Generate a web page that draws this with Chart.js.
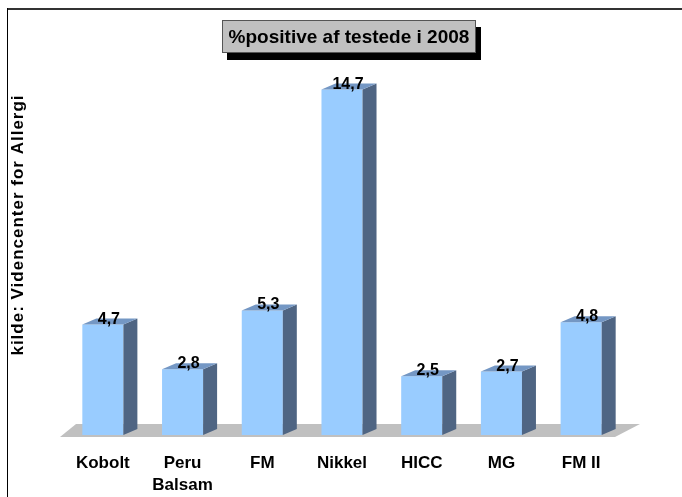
<!DOCTYPE html>
<html>
<head>
<meta charset="utf-8">
<script src="https://cdn.jsdelivr.net/npm/chart.js@4"></script>
<style>
  html, body { margin: 0; padding: 0; background: #fff; }
  #wrap { width: 682px; height: 497px; position: relative; }
</style>
</head>
<body>
<div id="wrap"><canvas id="chart"></canvas></div>
<script>
const categories = ['Kobolt', ['Peru', 'Balsam'], 'FM', 'Nikkel', 'HICC', 'MG', 'FM II'];
const values = [4.7, 2.8, 5.3, 14.7, 2.5, 2.7, 4.8];
const valueLabels = ['4,7', '2,8', '5,3', '14,7', '2,5', '2,7', '4,8'];
const chartTitle = '%positive af testede i 2008';
const sourceTitle = 'kilde: Videncenter for Allergi';

const FONT = '"Liberation Sans", Arial, sans-serif';
const DX = 14, DY = 6;

// floor, 3D sides and tops, value labels, title box, frame
const bar3d = {
  id: 'bar3d',
  beforeDatasetsDraw(chart) {
    const { ctx, chartArea: a } = chart;
    const base = chart.scales.y.getPixelForValue(0);
    ctx.save();
    ctx.fillStyle = '#C0C0C0';
    ctx.beginPath();
    ctx.moveTo(a.left - 3, base + 2);
    ctx.lineTo(a.right - 6, base + 2);
    ctx.lineTo(a.right + 19, base - 11);
    ctx.lineTo(a.left + 13, base - 11);
    ctx.closePath();
    ctx.fill();
    ctx.restore();
  },
  afterDatasetsDraw(chart) {
    const { ctx } = chart;
    const meta = chart.getDatasetMeta(0);
    ctx.save();
    meta.data.forEach((bar, i) => {
      const l = bar.x - bar.width / 2, r = bar.x + bar.width / 2;
      const top = bar.y, base = bar.base;
      ctx.fillStyle = '#4F6583';
      ctx.beginPath();
      ctx.moveTo(r, top);
      ctx.lineTo(r + DX, top - DY);
      ctx.lineTo(r + DX, base - DY);
      ctx.lineTo(r, base);
      ctx.closePath();
      ctx.fill();
      ctx.fillStyle = '#7497C4';
      ctx.beginPath();
      ctx.moveTo(l, top);
      ctx.lineTo(l + DX, top - DY);
      ctx.lineTo(r + DX, top - DY);
      ctx.lineTo(r, top);
      ctx.closePath();
      ctx.fill();
      ctx.fillStyle = '#000';
      ctx.font = 'bold 16px ' + FONT;
      ctx.textAlign = 'center';
      ctx.textBaseline = 'alphabetic';
      ctx.fillText(valueLabels[i], bar.x + 6, top - 1);
    });
    ctx.restore();
  },
  afterDraw(chart) {
    const { ctx } = chart;
    ctx.save();
    // frame
    ctx.fillStyle = '#333';
    ctx.fillRect(7, 8, 675, 2);
    ctx.fillStyle = '#000';
    ctx.fillRect(7, 8, 1, 489);
    // title box with shadow
    const bx = 222, by = 20, bw = 254, bh = 33;
    ctx.fillStyle = '#000';
    ctx.fillRect(bx + 5, by + 7, bw, bh);
    ctx.fillStyle = '#C0C0C0';
    ctx.fillRect(bx, by, bw, bh);
    ctx.strokeStyle = '#555';
    ctx.lineWidth = 1;
    ctx.strokeRect(bx + 0.5, by + 0.5, bw - 1, bh - 1);
    ctx.fillStyle = '#000';
    ctx.font = 'bold 19px ' + FONT;
    ctx.textAlign = 'center';
    ctx.textBaseline = 'middle';
    ctx.fillText(chartTitle, bx + bw / 2, by + bh / 2 + 1);
    // vertical source title
    ctx.translate(18, 225);
    ctx.rotate(-Math.PI / 2);
    ctx.font = 'bold 17px ' + FONT;
    ctx.letterSpacing = '1px';
    ctx.fillText(sourceTitle, 0, 0);
    ctx.restore();
  }
};

new Chart(document.getElementById('chart'), {
  type: 'bar',
  data: {
    labels: categories,
    datasets: [{
      data: values,
      backgroundColor: '#99CCFF',
      borderWidth: 0,
      categoryPercentage: 1,
      barPercentage: 0.515
    }]
  },
  options: {
    responsive: true,
    maintainAspectRatio: false,
    animation: false,
    layout: {
      padding: { top: 59, right: 61, bottom: 0, left: 0 }
    },
    plugins: {
      legend: { display: false },
      title: { display: false },
      tooltip: { enabled: false }
    },
    scales: {
      x: {
        grid: { display: false, drawTicks: false },
        border: { display: false },
        ticks: {
          color: '#000',
          padding: 17,
          font: { family: FONT, size: 17, weight: 'bold', lineHeight: 1.3 }
        },
        afterFit: s => { s.height = 62; }
      },
      y: {
        min: 0,
        max: 16,
        grid: { display: false },
        border: { display: false },
        ticks: { display: false },
        afterFit: s => { s.width = 63; }
      }
    }
  },
  plugins: [bar3d]
});
</script>
</body>
</html>
